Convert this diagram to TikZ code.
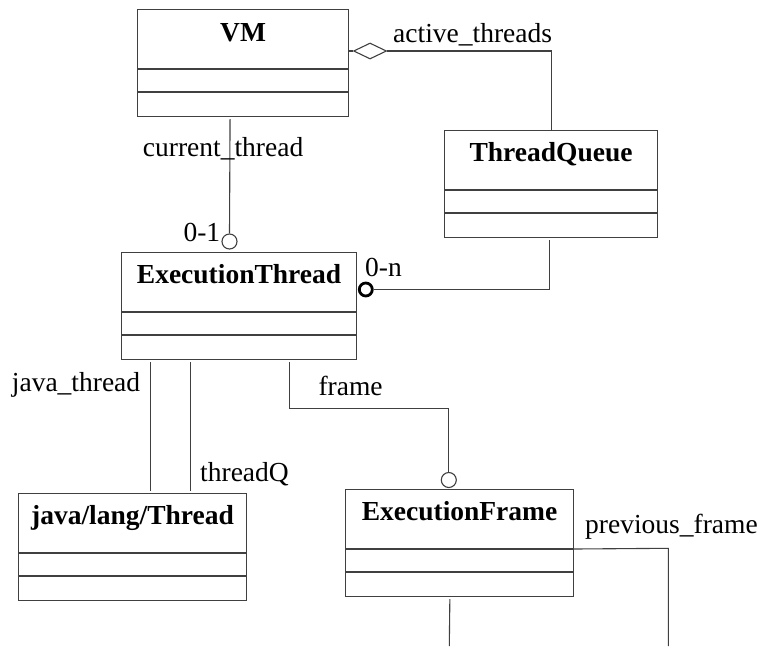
\documentclass[tikz,border=0pt]{standalone}
\usepackage{fontspec}
\setmainfont{Liberation Serif}
\usetikzlibrary{shapes.geometric}
\begin{document}
\begin{tikzpicture}[x=1pt,y=-1pt,
  every node/.style={font=\fontsize{27.5}{33}\selectfont, text=black},
  ln/.style={draw=black!75, line width=1.1pt},
  umlbox/.style={draw=black!75, line width=1.1pt, rectangle, anchor=north west, inner sep=0pt, minimum height=107pt},
  ttl/.style={font=\fontsize{27.5}{33}\selectfont\bfseries, anchor=base, inner sep=0pt},
  lbl/.style={anchor=base west, inner sep=0pt},
  ocirc/.style={circle, draw=black!75, line width=1.1pt, minimum size=15pt, inner sep=0pt},
  ocircthick/.style={circle, draw=black, line width=2.8pt, minimum size=13pt, inner sep=0pt},
  agg/.style={diamond, draw=black!75, line width=1.1pt, minimum width=33pt, minimum height=16pt, inner sep=0pt, anchor=west}
]
\useasboundingbox (0,0) rectangle (757,646);

% class boxes
\node[umlbox, minimum width=211pt] (vm) at (137,9) {};
\node[umlbox, minimum width=213pt] (tq) at (444,130) {};
\node[umlbox, minimum width=235pt] (et) at (121,252) {};
\node[umlbox, minimum width=228pt] (jlt) at (18,493) {};
\node[umlbox, minimum width=228pt] (ef) at (345,489) {};

% titles
\node[ttl] (vmt) at ([yshift=-32pt]vm.north) {VM};
\node[ttl] (tqt) at ([yshift=-31.5pt]tq.north) {ThreadQueue};
\node[ttl] (ett) at ([yshift=-31.5pt]et.north) {ExecutionThread};
\node[ttl] (jltt) at ([yshift=-31pt]jlt.north) {java/lang/Thread};
\node[ttl] (eft) at ([yshift=-31pt]ef.north) {ExecutionFrame};

% compartment dividers
\foreach \b in {vm,tq,et,jlt,ef}{
  \draw[ln] ([yshift=-60pt]\b.north west) -- ([yshift=-60pt]\b.north east);
  \draw[ln] ([yshift=-83pt]\b.north west) -- ([yshift=-83pt]\b.north east);
}

% VM -- ThreadQueue (aggregation)
\node[agg] (ag) at (353,51) {};
\draw[ln] (vm.east |- ag.west) -- (ag.west);
\draw[ln] (ag.east) -| (tq.north);
\node[lbl] (l1) at (393,42.7) {active\_threads};

% VM -- ExecutionThread (current_thread)
\node[ocirc] (o1) at (229.5,241.5) {};
\draw[ln] ([xshift=-13pt,yshift=-2pt]vm.south) -- (o1.north);
\node[lbl] (l2) at (142.7,156.7) {current\_thread};
\node[lbl] (l3) at (183.3,241) {0-1};

% ThreadQueue -- ExecutionThread
\node[ocircthick] (o2) at (365.8,289.5) {};
\draw[ln] ([xshift=-1.5pt,yshift=-2pt]tq.south) |- (o2.east);
\node[lbl] (l4) at (365,276.7) {0-n};

% ExecutionThread -- java/lang/Thread
\draw[ln] ([xshift=-88.5pt,yshift=-2pt]et.south) -- ([xshift=18pt,yshift=2.5pt]jlt.north);
\draw[ln] ([xshift=-48.2pt,yshift=-2pt]et.south) -- ([xshift=58.3pt,yshift=2.5pt]jlt.north);
\node[lbl] (l5) at (11.7,391.5) {java\_thread};
\node[lbl] (l6) at (200,481.7) {threadQ};

% ExecutionThread -- ExecutionFrame (frame)
\node[ocirc] (o3) at (448.8,480) {};
\coordinate (fb) at (448.8,408.3);
\draw[ln] ([xshift=50.8pt,yshift=-2pt]et.south) |- (fb) -- (o3.north);
\node[lbl] (l7) at (318.3,395) {frame};

% ExecutionFrame lower connectors
\coordinate (e1) at (449.3,646);
\draw[ln] ([xshift=-9.7pt,yshift=-2pt]ef.south) -- (e1);
\coordinate (pf1) at (668.3,548.3);
\coordinate (pf2) at (668.3,646);
\draw[ln] ([yshift=-60pt]ef.north east) -- (pf1) -- (pf2);
\node[lbl] (l8) at (585,533.3) {previous\_frame};
\end{tikzpicture}
\end{document}
